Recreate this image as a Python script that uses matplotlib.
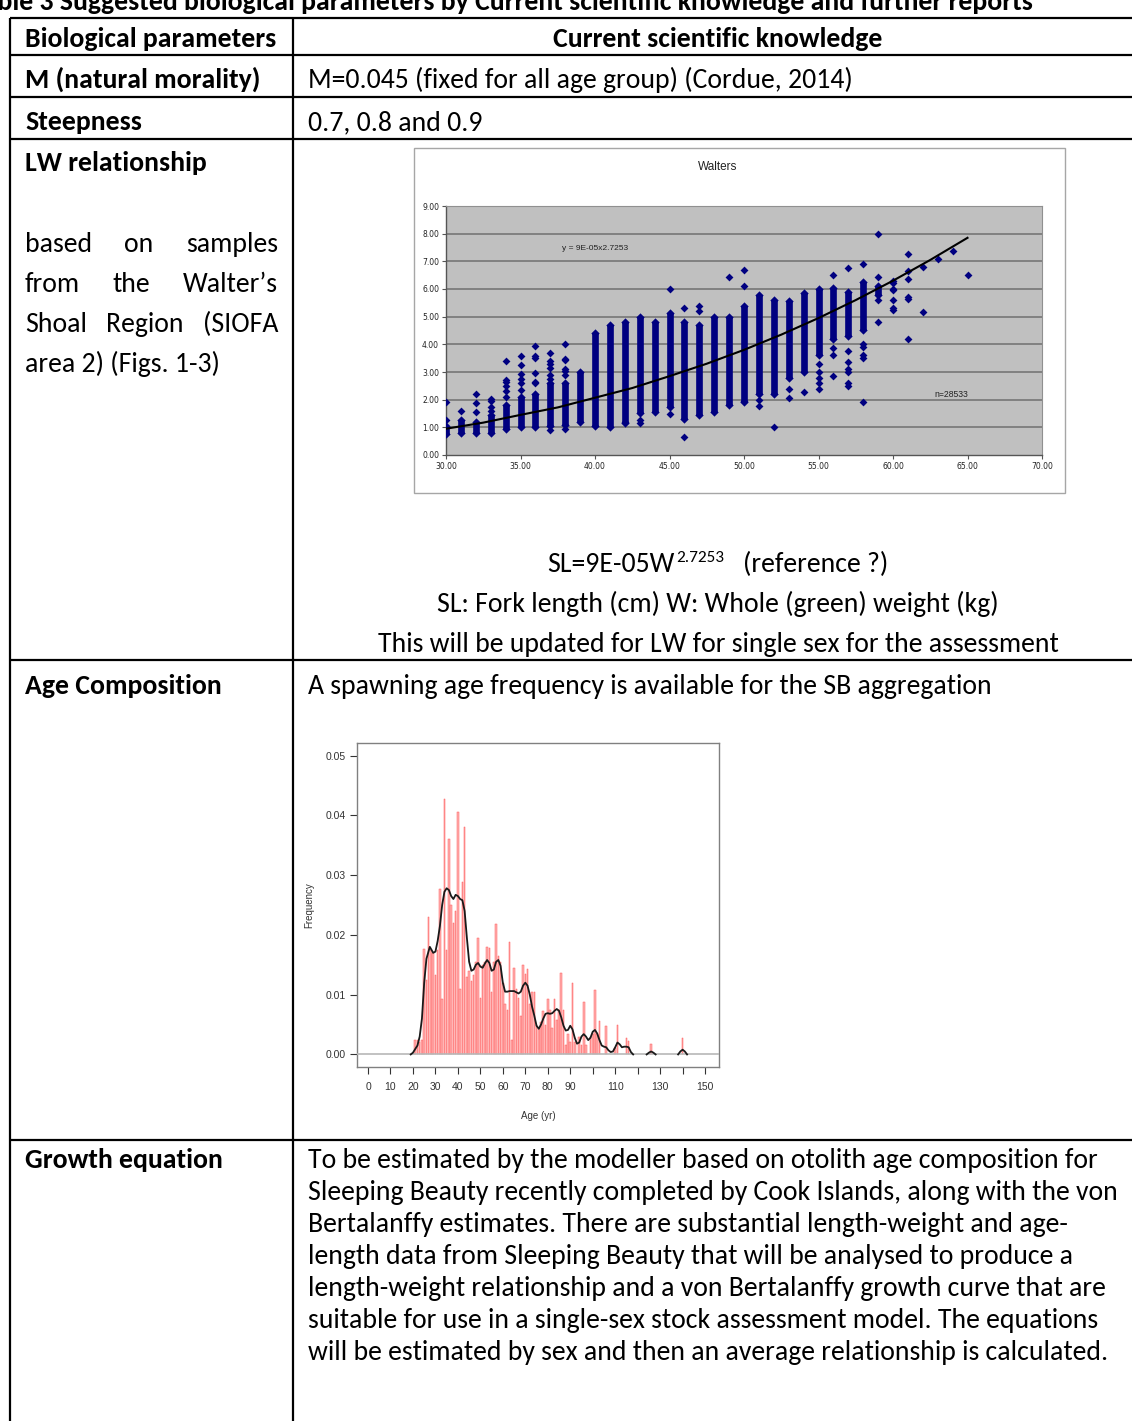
import matplotlib
matplotlib.use("Agg")
import matplotlib.pyplot as plt
from matplotlib import font_manager
from matplotlib.patches import Rectangle
import numpy as np

W, H = 1132, 1421

# ---------------- data ----------------
# LW scatter: dense columns of points (length -> weight range) and single points
col_len = [30, 31, 32, 33, 34, 35, 36, 37, 38, 39, 40, 41, 42, 43, 44,
           45, 46, 47, 48, 49, 50, 51, 52, 53, 54, 55, 56, 57, 58, 59]
col_lo = [0.75, 0.80, 0.80, 0.78, 0.95, 1.00, 1.00, 1.05, 1.10, 1.20, 1.05, 1.00, 1.15, 1.50, 1.55,
          1.75, 1.30, 1.45, 1.55, 1.80, 1.90, 2.20, 2.20, 2.80, 3.00, 3.60, 4.20, 4.30, 4.50, 5.80]
col_hi = [1.05, 1.25, 1.20, 1.45, 1.80, 2.10, 2.20, 2.60, 2.60, 3.00, 4.40, 4.70, 4.80, 5.00, 4.80,
          5.15, 4.80, 4.70, 5.00, 5.00, 5.40, 5.80, 5.60, 5.55, 5.85, 6.00, 6.05, 5.90, 6.25, 6.10]

pt_len = [30, 30, 31, 32, 32, 32, 33, 33, 33, 33,
          34, 34, 34, 34, 34, 34, 35, 35, 35, 35, 35, 35,
          36, 36, 36, 36, 36, 36, 37, 37, 37, 37, 37, 37, 37,
          38, 38, 38, 38, 38, 38, 38, 42, 43, 43, 45, 45, 46, 46, 47, 47,
          49, 50, 50, 50, 51, 51, 52, 53, 53, 54,
          55, 55, 55, 55, 55, 56, 56, 56, 56,
          57, 57, 57, 57, 57, 57, 57, 58, 58, 58, 58, 58, 58,
          59, 59, 59, 59, 60, 60, 60, 60, 60, 60, 60,
          61, 61, 61, 61, 61, 61, 62, 62, 63, 64, 65]
pt_wt = [1.28, 1.93, 1.58, 1.55, 1.88, 2.20, 1.60, 1.75, 1.95, 2.02,
         2.10, 2.30, 2.50, 2.65, 2.70, 3.38, 2.35, 2.60, 2.75, 2.92, 3.27, 3.57,
         2.60, 2.65, 2.95, 3.52, 3.57, 3.95, 0.90, 2.75, 2.90, 3.15, 3.30, 3.38, 3.68,
         0.95, 2.90, 3.05, 3.10, 3.42, 3.47, 4.00, 1.20, 1.15, 1.25, 1.48, 6.00, 0.65, 5.30, 5.20, 5.40,
         6.45, 1.95, 6.10, 6.68, 1.78, 2.00, 1.00, 2.05, 2.38, 2.28,
         2.40, 2.60, 2.80, 3.00, 3.30, 2.85, 3.60, 3.85, 6.50,
         2.50, 2.60, 3.00, 3.10, 3.35, 3.75, 6.75, 1.90, 3.50, 3.60, 3.90, 4.00, 6.90,
         4.80, 5.60, 6.45, 8.00, 5.25, 5.30, 5.60, 5.95, 6.00, 6.20, 6.30,
         4.20, 5.65, 5.70, 6.35, 6.65, 7.25, 5.18, 6.80, 7.10, 7.38, 6.50]

trend_len = [30, 32.5, 35, 37.5, 40, 42.5, 45, 47.5, 50, 52.5, 55, 57.5, 60, 62.5, 65]
trend_wt = [0.95, 1.17, 1.45, 1.72, 2.07, 2.42, 2.85, 3.30, 3.80, 4.35, 4.95, 5.60, 6.30, 7.05, 7.85]

# Age composition: frequency by age
age = [21, 22, 23, 24, 25, 26, 27, 28, 29, 30, 31, 32, 33, 34, 35, 36, 37, 38, 39, 40,
       41, 42, 43, 44, 45, 46, 47, 48, 49, 50, 51, 52, 53, 54, 55, 56, 57, 58, 59, 60,
       61, 62, 63, 64, 65, 66, 67, 68, 69, 70, 71, 72, 73, 74, 75, 76, 77, 78, 79, 80,
       81, 82, 83, 84, 85, 86, 87, 88, 89, 90, 91, 92, 94, 95, 96, 97, 99, 100,
       101, 102, 103, 106, 110, 111, 115, 116, 126, 140]
freq = [0.0025, 0.0025, 0.0020, 0.0025, 0.0177, 0.0125, 0.0230, 0.0175, 0.0170, 0.0133,
        0.0175, 0.0276, 0.0093, 0.0427, 0.0175, 0.0360, 0.0250, 0.0220, 0.0240, 0.0405,
        0.0110, 0.0288, 0.0380, 0.0130, 0.0140, 0.0123, 0.0133, 0.0155, 0.0195, 0.0095,
        0.0150, 0.0155, 0.0180, 0.0178, 0.0105, 0.0155, 0.0218, 0.0165, 0.0155, 0.0120,
        0.0085, 0.0075, 0.0188, 0.0025, 0.0145, 0.0110, 0.0095, 0.0065, 0.0150, 0.0135,
        0.0143, 0.0085, 0.0105, 0.0105, 0.0050, 0.0045, 0.0055, 0.0072, 0.0050, 0.0093,
        0.0075, 0.0045, 0.0092, 0.0057, 0.0075, 0.0137, 0.0075, 0.0015, 0.0035, 0.0020,
        0.0120, 0.0020, 0.0030, 0.0015, 0.0088, 0.0015, 0.0030, 0.0035,
        0.0108, 0.0035, 0.0056, 0.0048, 0.0010, 0.0050, 0.0027, 0.0022, 0.0017, 0.0027]

# density curve (NaN breaks the line)
dens_age = [19, 20, 22, 23, 24, 25, 26, 27.5, 29, 30, 31, 32, 33, 34, 35, 36, 37, 38, 39, 40,
            41, 42, 43, 44, 45, 46, 47, 48, 49, 50, 51, 52, 53, 54, 55, 56, 57, 58, 59, 60,
            61, 62, 63, 64, 65, 66, 67, 68, 69, 70, 71, 72, 73, 74, 75, 76, 77, 78, 79, 80,
            81, 82, 83, 84, 85, 86, 87, 88, 89, 90, 91, 92, 93, 94, 95, 96, 97, 98, 99, 100,
            101, 102, 103, 104, 105, 106, 107, 108, 109, 110, 111, 112, 113, 114, 115, 116, 117, 118,
            121, 124, 125, 126, 127, 128, 133, 138, 139, 140, 141, 142]
dens_val = [0.0, 0.0003, 0.0015, 0.0030, 0.0060, 0.0120, 0.0160, 0.0180, 0.0170, 0.0172,
            0.0190, 0.0215, 0.0250, 0.0272, 0.0278, 0.0275, 0.0265, 0.0260, 0.0267, 0.0265,
            0.0260, 0.0258, 0.0240, 0.0195, 0.0155, 0.0140, 0.0142, 0.0150, 0.0153, 0.0147,
            0.0145, 0.0152, 0.0158, 0.0153, 0.0140, 0.0142, 0.0155, 0.0158, 0.0148, 0.0120,
            0.0105, 0.0105, 0.0106, 0.0106, 0.0106, 0.0104, 0.0102, 0.0105, 0.0115, 0.0120,
            0.0115, 0.0100, 0.0080, 0.0065, 0.0048, 0.0043, 0.0050, 0.0060, 0.0068, 0.0069,
            0.0068, 0.0069, 0.0073, 0.0076, 0.0073, 0.0062, 0.0048, 0.0040, 0.0041, 0.0048,
            0.0042, 0.0028, 0.0018, 0.0020, 0.0030, 0.0034, 0.0030, 0.0024, 0.0028, 0.0038,
            0.0041, 0.0035, 0.0024, 0.0015, 0.0013, 0.0012, 0.0007, 0.0004, 0.0005, 0.0012,
            0.0020, 0.0017, 0.0012, 0.0013, 0.0013, 0.0012, 0.0004, 0.0,
            np.nan, 0.0, 0.0003, 0.0005, 0.0003, 0.0, np.nan, 0.0, 0.0005, 0.0008, 0.0005, 0.0]

hist_xticks = [0, 10, 20, 30, 40, 50, 60, 70, 80, 90, 100, 110, 120, 130, 140, 150]
hist_xlabels = ['0', '10', '20', '30', '40', '50', '60', '70', '80', '90', '', '110', '', '130', '', '150']

growth_lines = [
    "To be estimated by the modeller based on otolith age composition for",
    "Sleeping Beauty recently completed by Cook Islands, along with the von",
    "Bertalanffy estimates. There are substantial length-weight and age-",
    "length data from Sleeping Beauty that will be analysed to produce a",
    "length-weight relationship and a von Bertalanffy growth curve that are",
    "suitable for use in a single-sex stock assessment model. The equations",
    "will be estimated by sex and then an average relationship is calculated.",
]

# ---------------- fonts ----------------
names = {f.name for f in font_manager.fontManager.ttflist}
BODY = ['Carlito', 'DejaVu Sans'] if 'Carlito' in names else ['Lato', 'DejaVu Sans']
CHART = ['Liberation Sans', 'DejaVu Sans']
FS = 20

fig = plt.figure(figsize=(W / 100, H / 100), dpi=100)
ax = fig.add_axes([0, 0, 1, 1])
ax.set_xlim(0, W)
ax.set_ylim(H, 0)
ax.axis('off')
rend = fig.canvas.get_renderer()


def px_rect(x0, y0, x1, y1):
    return [x0 / W, 1 - y1 / H, (x1 - x0) / W, (y1 - y0) / H]


def txt(x, y, s, bold=False, ha='left', size=FS):
    return ax.text(x, y, s, fontsize=size, fontweight='bold' if bold else 'normal',
                   ha=ha, va='baseline', family=BODY, color='black')


def width(t):
    return t.get_window_extent(rend).width


def justify(words, y, x0, x1):
    ts = [txt(x0, y, w) for w in words]
    ws = [width(t) for t in ts]
    gap = (x1 - x0 - sum(ws)) / (len(words) - 1)
    x = x0
    for t, w in zip(ts, ws):
        t.set_x(x)
        x += w + gap


# caption of the table, cut by the top edge as in the source page
txt(-30, 10, "Table 3 Suggested biological parameters by Current scientific knowledge and further reports",
    bold=True)

# table grid
LW = 1.6
for y in [18, 55, 97, 139, 660, 1140]:
    ax.plot([10, W], [y, y], color='black', lw=LW, solid_capstyle='butt')
for x in [10, 293]:
    ax.plot([x, x], [18, H], color='black', lw=LW, solid_capstyle='butt')

# header & simple rows
txt(25, 47, "Biological parameters", bold=True)
txt(718, 47, "Current scientific knowledge", bold=True, ha='center')
txt(25, 88, "M (natural morality)", bold=True)
txt(308, 88, "M=0.045 (fixed for all age group) (Cordue, 2014)")
txt(25, 130, "Steepness", bold=True)
txt(308, 130, "0.7, 0.8 and 0.9")
txt(25, 171, "LW relationship", bold=True)
justify(["based", "on", "samples"], 252, 25, 278)
justify(["from", "the", "Walter\u2019s"], 292, 25, 278)
justify(["Shoal", "Region", "(SIOFA"], 332, 25, 278)
txt(25, 372, "area 2) (Figs. 1-3)")

# equation with superscript, centred on the column
p1 = txt(0, 572, "SL=9E-05W")
p2 = txt(0, 562, "2.7253", size=FS * 0.62)
p3 = txt(0, 572, "(reference ?)")
w1, w2, w3 = width(p1), width(p2), width(p3)
gap = 20
start = 718 - (w1 + w2 + gap + w3) / 2
p1.set_x(start)
p2.set_x(start + w1 + 1)
p3.set_x(start + w1 + w2 + gap)
txt(718, 612, "SL: Fork length (cm) W: Whole (green) weight (kg)", ha='center')
txt(718, 652, "This will be updated for LW for single sex for the assessment", ha='center')

txt(25, 694, "Age Composition", bold=True)
txt(308, 694, "A spawning age frequency is available for the SB aggregation")

txt(25, 1168, "Growth equation", bold=True)
for i, line in enumerate(growth_lines):
    txt(308, 1168 + 32 * i, line)

# ---------------- LW scatter chart ----------------
ax.add_patch(Rectangle((414, 148), 651, 345, facecolor='white', edgecolor='#A6A6A6', lw=1))
ax.text(718, 167, "Walters", fontsize=8.5, family=CHART, ha='center', va='center', color='#222222')

axs = fig.add_axes(px_rect(446, 206, 1042, 455))
axs.set_facecolor('#C0C0C0')
axs.set_xlim(30, 70)
axs.set_ylim(0, 9)
for v in range(1, 10):
    axs.axhline(v, color='#767676', lw=1.2, zorder=1)
navy = '#000080'
axs.vlines(col_len, col_lo, col_hi, color=navy, lw=4.8, zorder=3)
axs.scatter(col_len + col_len, col_lo + col_hi, marker='D', s=18, color=navy, lw=0, zorder=3)
axs.scatter(pt_len, pt_wt, marker='D', s=16, color=navy, lw=0, zorder=3)
axs.plot(trend_len, trend_wt, color='black', lw=1.5, zorder=4)
axs.text(37.8, 7.45, "y = 9E-05x2.7253", fontsize=6, family=CHART, va='center', color='#222222')
axs.text(62.8, 2.2, "n=28533", fontsize=6.2, family=CHART, va='center', color='#222222')
axs.set_xticks(range(30, 71, 5))
axs.set_xticklabels([f"{v:.2f}" for v in range(30, 71, 5)])
axs.set_yticks(range(0, 10))
axs.set_yticklabels([f"{v:.2f}" for v in range(0, 10)])
axs.tick_params(labelsize=5.5, length=3, width=0.8, color='#555555', pad=2, labelcolor='#222222')
for s in ['left', 'bottom']:
    axs.spines[s].set_color('#555555')
    axs.spines[s].set_linewidth(1.0)
for s in ['top', 'right']:
    axs.spines[s].set_color('#909090')
    axs.spines[s].set_linewidth(0.8)

# ---------------- age frequency chart ----------------
axh = fig.add_axes(px_rect(357, 743, 719, 1067))
axh.set_xlim(-4.9, 156.2)
axh.set_ylim(-0.0021, 0.0521)
axh.bar(age, freq, width=0.7, color='#FFB0B0', edgecolor='#FF5A5A', lw=0.35, zorder=2)
axh.axhline(0, color='#B8B8B8', lw=1.2, zorder=3)
axh.plot(dens_age, dens_val, color='#1A1A1A', lw=1.3, zorder=4)
axh.set_xticks(hist_xticks)
axh.set_xticklabels(hist_xlabels)
axh.set_yticks([0, 0.01, 0.02, 0.03, 0.04, 0.05])
axh.set_yticklabels(['0.00', '0.01', '0.02', '0.03', '0.04', '0.05'])
axh.tick_params(labelsize=7.5, length=5, width=0.8, color='#333333', labelcolor='#333333')
axh.tick_params(axis='x', pad=6)
axh.tick_params(axis='y', pad=3)
for t in axh.get_xticklabels() + axh.get_yticklabels():
    t.set_family(CHART)
for s in axh.spines.values():
    s.set_color('#808080')
    s.set_linewidth(1.0)
axh.set_xlabel("Age (yr)", fontsize=7, family=CHART, color='#333333')
axh.set_ylabel("Frequency", fontsize=7, family=CHART, color='#333333')
axh.xaxis.set_label_coords(0.5, -0.136)
axh.yaxis.set_label_coords(-0.119, 0.5)

fig.savefig("out.png", dpi=100)
